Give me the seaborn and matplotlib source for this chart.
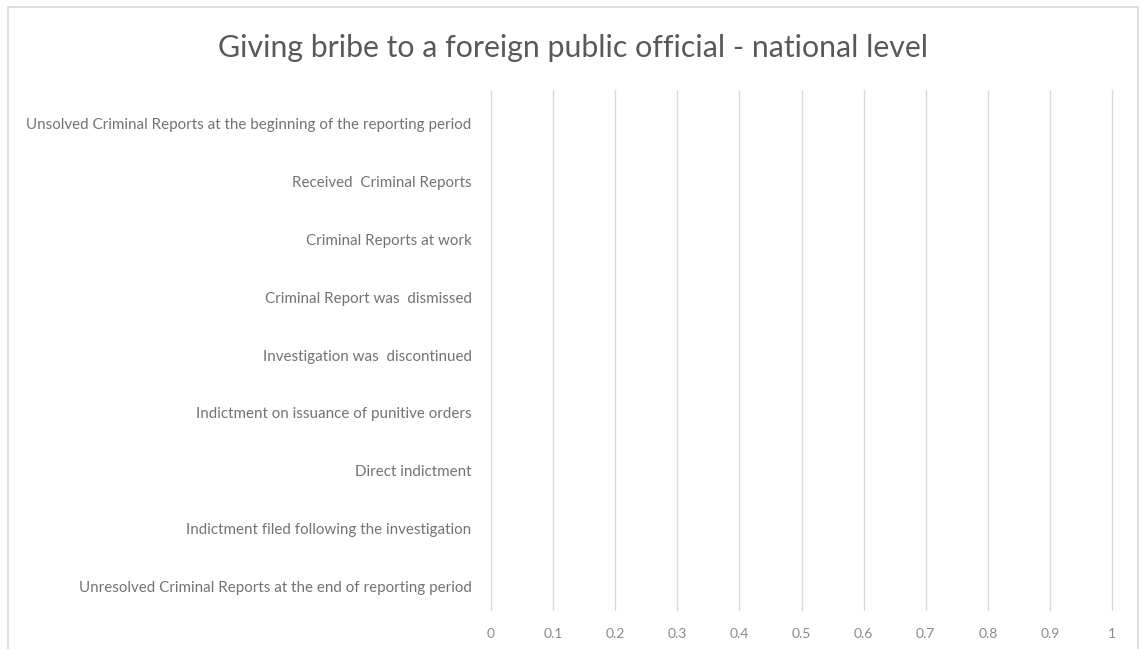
import matplotlib
matplotlib.use("Agg")
import matplotlib.pyplot as plt
import matplotlib.transforms as mtransforms
import seaborn as sns
import pandas as pd
from matplotlib.patches import Rectangle

categories = [
    "Unsolved Criminal Reports at the beginning of the reporting period",
    "Received  Criminal Reports",
    "Criminal Reports at work",
    "Criminal Report was  dismissed",
    "Investigation was  discontinued",
    "Indictment on issuance of punitive orders",
    "Direct indictment",
    "Indictment filed following the investigation",
    "Unresolved Criminal Reports at the end of reporting period",
]
values = [0, 0, 0, 0, 0, 0, 0, 0, 0]
x_ticks = [0, 0.1, 0.2, 0.3, 0.4, 0.5, 0.6, 0.7, 0.8, 0.9, 1]
x_tick_labels = ["0", "0.1", "0.2", "0.3", "0.4", "0.5", "0.6", "0.7", "0.8", "0.9", "1"]
title = "Giving bribe to a foreign public official - national level"

sns.set_theme(style="white")
plt.rcParams["font.family"] = ["Lato", "DejaVu Sans"]

df = pd.DataFrame({"category": categories, "value": values})

fig = plt.figure(figsize=(11.43, 6.49), dpi=100)
ax = fig.add_axes([0.4296, 0.0601, 0.9729 - 0.4296, 0.8613 - 0.0601])

sns.barplot(data=df, x="value", y="category", color="#4472c4", ax=ax,
            orient="h", linewidth=0)

ax.set_xlim(0, 1)
ax.set_xticks(x_ticks)
ax.set_xticklabels(x_tick_labels)
ax.grid(axis="x", color="#d9d9d9", linewidth=1.0)
ax.grid(axis="y", visible=False)
for gl in ax.get_xgridlines():
    gl.set_clip_on(False)
ax.set_axisbelow(True)
for side in ["top", "right", "bottom", "left"]:
    ax.spines[side].set_visible(False)
ax.tick_params(axis="both", length=0)
ax.tick_params(axis="x", colors="#8a8a8a", labelsize=10, pad=13)
ax.tick_params(axis="y", colors="#737373", labelsize=10.9, pad=14)
ax.set_xlabel("")
ax.set_ylabel("")

# nudge category labels slightly downward
shift = mtransforms.ScaledTranslation(0, -5 / 100, fig.dpi_scale_trans)
for lbl in ax.get_yticklabels():
    lbl.set_transform(lbl.get_transform() + shift)

fig.text(0.501, 0.926, title, ha="center", va="center", fontsize=21.8, color="#595959")

# light chart-area frame
fig.add_artist(Rectangle((8 / 1143, -0.05), (1138 - 8) / 1143, 1.05 - 7 / 649,
                         transform=fig.transFigure, fill=False,
                         edgecolor="#d9d9d9", linewidth=1.2))

fig.savefig("out.png", dpi=100)
